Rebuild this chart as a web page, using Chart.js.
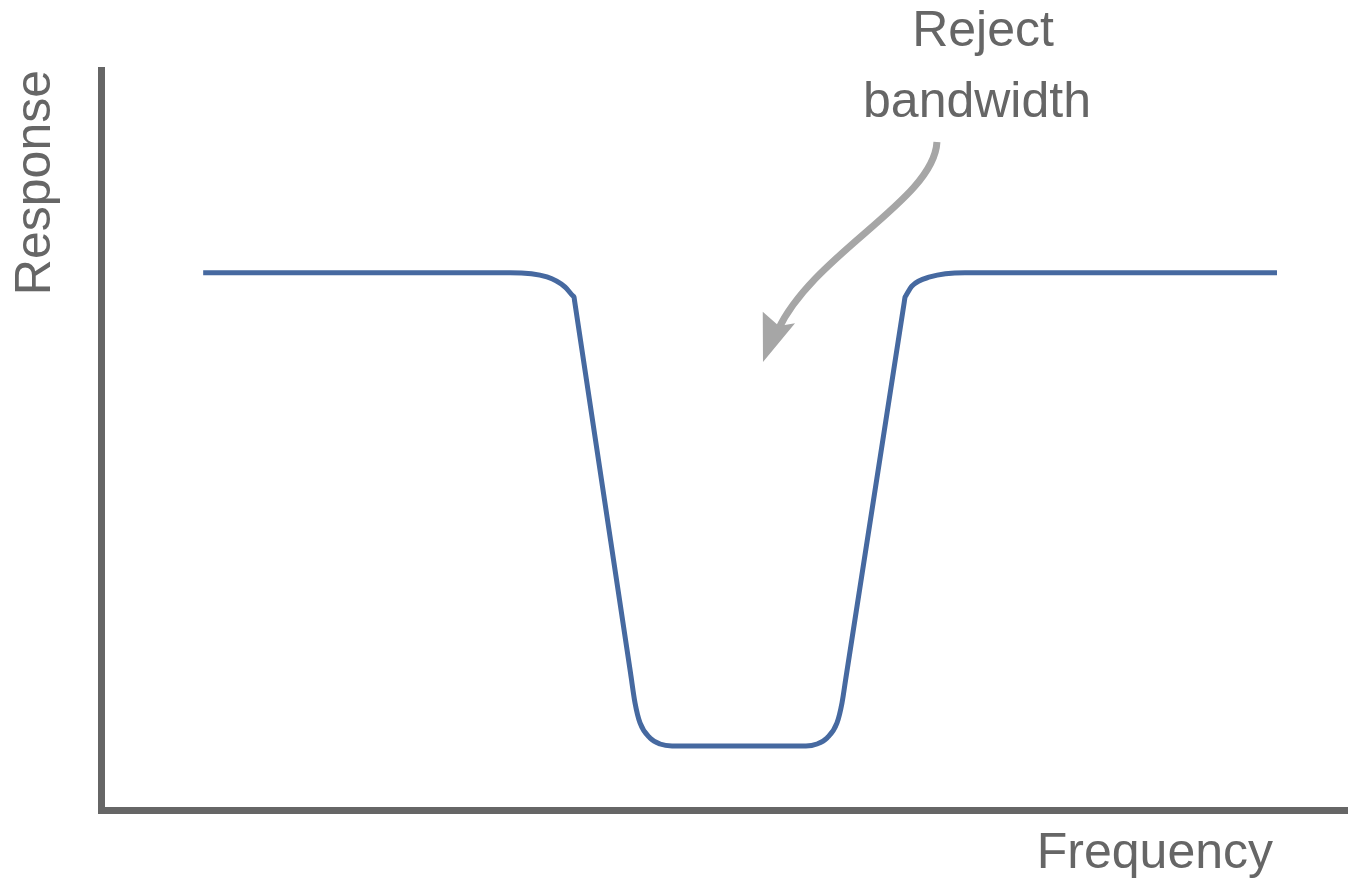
<!DOCTYPE html>
<html>
<head>
<meta charset="utf-8">
<script src="https://cdn.jsdelivr.net/npm/chart.js@4.4.1/dist/chart.umd.min.js"></script>
<style>
  html, body { margin: 0; padding: 0; background: #ffffff; }
  #wrap { width: 1354px; height: 881px; }
</style>
</head>
<body>
<div id="wrap"><canvas id="c" width="1354" height="881"></canvas></div>
<script>
// ---- data (frequency / response in arbitrary units) ----
const frequency = [8.2, 32.83, 35.79, 37.24, 37.90, 37.96, 38.02, 42.5, 42.86, 43.26, 44.06, 44.86, 45.83,
                   56.58, 57.46, 58.27, 59.07, 59.47, 59.8, 64.47, 64.53, 64.59, 65.09, 66.53, 69.34, 94.38];
const response  = [72.6, 72.6, 72.03, 70.68, 69.43, 69.32, 68.65, 18.49, 14.46, 11.76, 9.73, 8.92, 8.65,
                   8.65, 8.92, 9.73, 11.76, 14.46, 18.04, 68.67, 69.32, 69.48, 70.81, 72.03, 72.6, 72.6];

// annotation arrow (data units): curved shaft (cubic) and arrow head
const arrowShaftX = [67.09, 66.85, 57.22, 54.33];
const arrowShaftY = [90.27, 82.43, 75.27, 64.86];
const arrowHeadX  = [53.13, 53.11, 54.41, 55.70];
const arrowHeadY  = [60.54, 67.34, 65.41, 65.77];

const annotationLines = ['Reject', 'bandwidth'];
const xTitle = 'Frequency';
const yTitle = 'Response';

const FONT = "'Liberation Sans', Arial, Helvetica, sans-serif";
const TEXT_COLOR = '#666666';
const AXIS_COLOR = '#666666';
const LINE_COLOR = '#4669A0';
const ARROW_COLOR = '#A6A6A6';

const points = frequency.map((f, i) => ({ x: f, y: response[i] }));

const annotationPlugin = {
  id: 'annotations',
  afterDraw(chart) {
    const ctx = chart.ctx;
    const xs = chart.scales.x, ys = chart.scales.y;
    const px = v => xs.getPixelForValue(v);
    const py = v => ys.getPixelForValue(v);
    ctx.save();
    // curved arrow shaft
    ctx.strokeStyle = ARROW_COLOR;
    ctx.lineWidth = 7;
    ctx.lineCap = 'butt';
    ctx.beginPath();
    ctx.moveTo(px(arrowShaftX[0]), py(arrowShaftY[0]));
    ctx.bezierCurveTo(px(arrowShaftX[1]), py(arrowShaftY[1]),
                      px(arrowShaftX[2]), py(arrowShaftY[2]),
                      px(arrowShaftX[3]), py(arrowShaftY[3]));
    ctx.stroke();
    // arrow head
    ctx.fillStyle = ARROW_COLOR;
    ctx.beginPath();
    ctx.moveTo(px(arrowHeadX[0]), py(arrowHeadY[0]));
    for (let i = 1; i < arrowHeadX.length; i++) ctx.lineTo(px(arrowHeadX[i]), py(arrowHeadY[i]));
    ctx.closePath();
    ctx.fill();
    // texts
    ctx.fillStyle = TEXT_COLOR;
    ctx.font = '50px ' + FONT;
    ctx.textBaseline = 'alphabetic';
    ctx.textAlign = 'center';
    ctx.fillText(annotationLines[0], 983, 46);
    ctx.fillText(annotationLines[1], 977, 117);
    ctx.textAlign = 'right';
    ctx.fillText(xTitle, 1273, 868);
    ctx.restore();
  }
};

new Chart(document.getElementById('c'), {
  type: 'line',
  data: {
    datasets: [{
      data: points,
      borderColor: LINE_COLOR,
      borderWidth: 5,
      borderCapStyle: 'butt',
      borderJoinStyle: 'round',
      cubicInterpolationMode: 'monotone',
      pointRadius: 0,
      fill: false
    }]
  },
  options: {
    responsive: false,
    animation: false,
    layout: { padding: { top: 70, left: 0, right: 7, bottom: 71 } },
    plugins: { legend: { display: false }, tooltip: { enabled: false } },
    scales: {
      x: {
        type: 'linear', min: 0, max: 100,
        grid: { display: false, drawTicks: false },
        border: { display: true, color: AXIS_COLOR, width: 7 },
        ticks: { display: false },
        title: { display: false }
      },
      y: {
        type: 'linear', min: 0, max: 100,
        grid: { display: false, drawTicks: false },
        border: { display: true, color: AXIS_COLOR, width: 7 },
        ticks: { display: false },
        title: {
          display: true, text: yTitle, align: 'end', color: TEXT_COLOR,
          font: { family: FONT, size: 50, weight: 'normal' },
          padding: { top: 6, bottom: 35 }
        }
      }
    }
  },
  plugins: [annotationPlugin]
});
</script>
</body>
</html>
